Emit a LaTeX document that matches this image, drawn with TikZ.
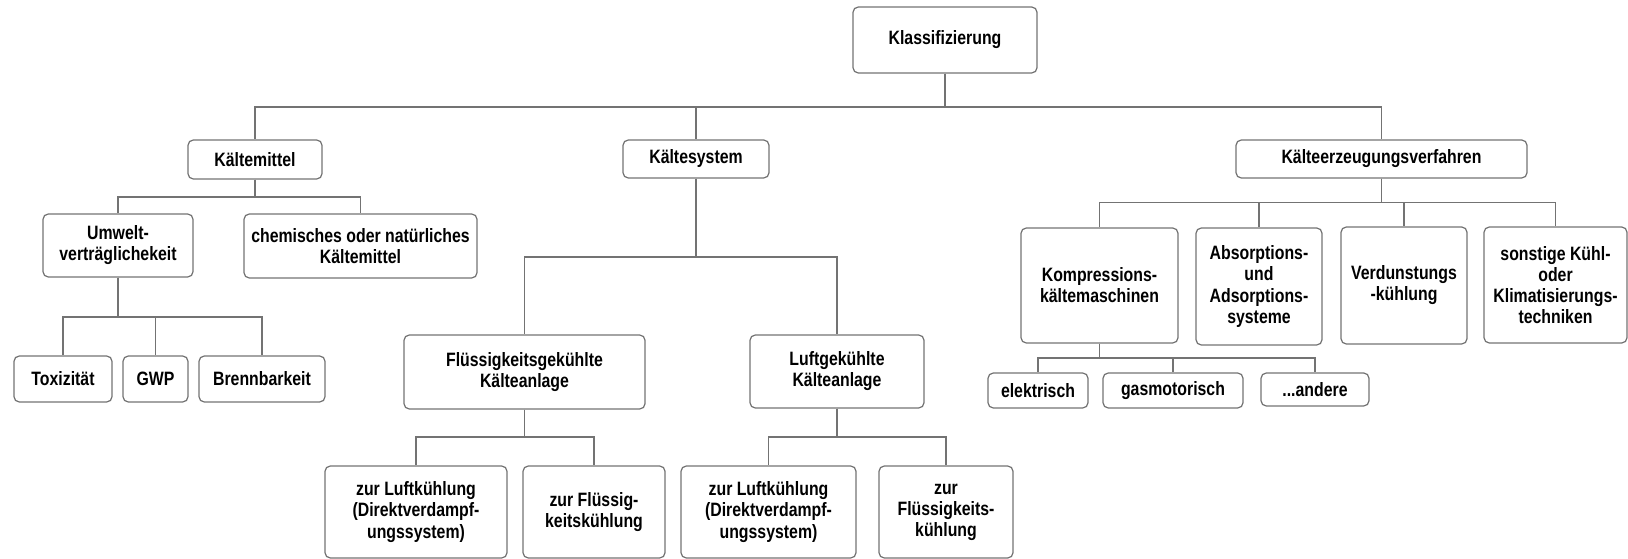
\documentclass[tikz,border=0pt]{standalone}
\usepackage{fontspec}
\setmainfont{Liberation Sans}[FakeStretch=0.82]
\begin{document}
\begin{tikzpicture}[
    box/.style={draw=black!55, line width=0.7pt, rounded corners=3pt, align=center, inner sep=1pt, font=\fontsize{11}{12}\selectfont\bfseries},
    conn/.style={draw=black!55, line width=0.9pt}
]
    \useasboundingbox (0, 0) rectangle (32.56, -11.18);

    % Root
    \node[box, minimum width=3.68cm, minimum height=1.32cm] (klass) at (18.9, -0.8) {Klassifizierung};

    % First level
    \node[box, minimum width=2.68cm, minimum height=0.78cm] (kmittel) at (5.1, -3.19) {Kältemittel};
    \node[box, minimum width=2.92cm, minimum height=0.76cm] (ksystem) at (13.92, -3.18) {Kältesystem};
    \node[box, minimum width=5.82cm, minimum height=0.76cm] (kverf) at (27.63, -3.18) {Kälteerzeugungsverfahren};

    % Kaeltemittel branch
    \node[box, minimum width=3.0cm, minimum height=1.26cm] (umwelt) at (2.36, -4.91) {Umwelt-\\verträglichekeit};
    \node[box, minimum width=4.66cm, minimum height=1.28cm] (chem) at (7.21, -4.92) {chemisches oder natürliches\\Kältemittel};
    \node[box, minimum width=1.96cm, minimum height=0.92cm] (tox) at (1.26, -7.58) {Toxizität};
    \node[box, minimum width=1.3cm, minimum height=0.92cm] (gwp) at (3.11, -7.58) {GWP};
    \node[box, minimum width=2.52cm, minimum height=0.92cm] (brenn) at (5.24, -7.58) {Brennbarkeit};

    % Kaeltesystem branch
    \node[box, minimum width=4.82cm, minimum height=1.48cm] (fluessig) at (10.49, -7.44) {Flüssigkeitsgekühlte\\Kälteanlage};
    \node[box, minimum width=3.48cm, minimum height=1.46cm] (luft) at (16.74, -7.43) {Luftgekühlte\\Kälteanlage};
    \node[box, minimum width=3.64cm, minimum height=1.84cm] (flluft) at (8.32, -10.24) {zur Luftkühlung\\(Direktverdampf-\\ungssystem)};
    \node[box, minimum width=2.84cm, minimum height=1.84cm] (flfl) at (11.88, -10.24) {zur Flüssig-\\keitskühlung};
    \node[box, minimum width=3.5cm, minimum height=1.84cm] (luluft) at (15.37, -10.24) {zur Luftkühlung\\(Direktverdampf-\\ungssystem)};
    \node[box, minimum width=2.68cm, minimum height=1.84cm] (lufl) at (18.92, -10.24) {zur\\Flüssigkeits-\\kühlung};

    % Kaelteerzeugung branch
    \node[box, minimum width=3.14cm, minimum height=2.3cm] (kompr) at (21.99, -5.71) {Kompressions-\\kältemaschinen};
    \node[box, minimum width=2.52cm, minimum height=2.34cm] (absorp) at (25.18, -5.73) {Absorptions-\\und\\Adsorptions-\\systeme};
    \node[box, minimum width=2.52cm, minimum height=2.34cm] (verd) at (28.08, -5.71) {Verdunstungs\\-kühlung};
    \node[box, minimum width=2.86cm, minimum height=2.32cm] (sonst) at (31.11, -5.70) {sonstige Kühl-\\oder\\Klimatisierungs-\\techniken};
    \node[box, minimum width=2.0cm, minimum height=0.7cm] (elek) at (20.76, -7.81) {elektrisch};
    \node[box, minimum width=2.8cm, minimum height=0.7cm] (gas) at (23.46, -7.81) {gasmotorisch};
    \node[box, minimum width=2.16cm, minimum height=0.66cm] (andere) at (26.3, -7.79) {...andere};

    % Connectors (bus lines)
    \coordinate (busK) at (0, -2.14);
    \coordinate (busM) at (0, -3.94);
    \coordinate (busU) at (0, -6.34);
    \coordinate (busS) at (0, -5.14);
    \coordinate (busF) at (0, -8.74);
    \coordinate (busV) at (0, -4.05);
    \coordinate (busKo) at (0, -7.16);

    \foreach \c in {kmittel, ksystem, kverf}
        \draw[conn] (klass.south) -- (klass.south |- busK) -| (\c.north);
    \foreach \c in {umwelt, chem}
        \draw[conn] (kmittel.south) -- (kmittel.south |- busM) -| (\c.north);
    \foreach \c in {tox, gwp, brenn}
        \draw[conn] (umwelt.south) -- (umwelt.south |- busU) -| (\c.north);
    \foreach \c in {fluessig, luft}
        \draw[conn] (ksystem.south) -- (ksystem.south |- busS) -| (\c.north);
    \foreach \c in {flluft, flfl}
        \draw[conn] (fluessig.south) -- (fluessig.south |- busF) -| (\c.north);
    \foreach \c in {luluft, lufl}
        \draw[conn] (luft.south) -- (luft.south |- busF) -| (\c.north);
    \foreach \c in {kompr, absorp, verd, sonst}
        \draw[conn] (kverf.south) -- (kverf.south |- busV) -| (\c.north);
    \foreach \c in {elek, gas, andere}
        \draw[conn] (kompr.south) -- (kompr.south |- busKo) -| (\c.north);
\end{tikzpicture}
\end{document}
